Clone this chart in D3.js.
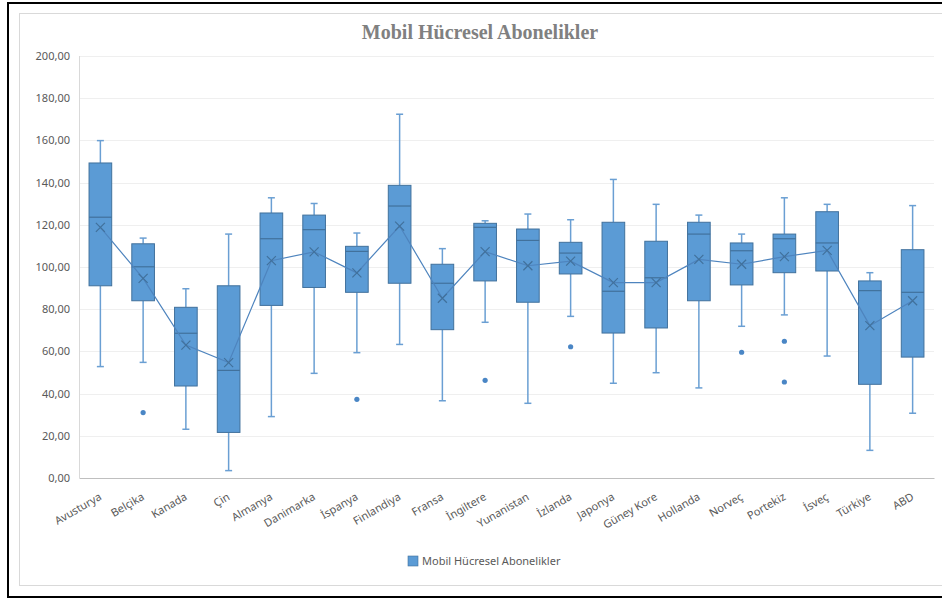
<!DOCTYPE html>
<html>
<head>
<meta charset="utf-8">
<script src="https://cdn.jsdelivr.net/npm/d3@7"></script>
<style>
  html, body { margin: 0; padding: 0; background: #fff; }
  svg { display: block; }
</style>
</head>
<body>
<svg id="chart" width="942" height="599"></svg>
<script>
// Mobile cellular subscriptions (per 100 people) by country: box-and-whisker summary
const categories = ["Avusturya","Belçika","Kanada","Çin","Almanya","Danimarka","İspanya","Finlandiya","Fransa","İngiltere",
                    "Yunanistan","İzlanda","Japonya","Güney Kore","Hollanda","Norveç","Portekiz","İsveç","Türkiye","ABD"];
const whiskerLow  = [52.8, 54.8, 23.1,  3.5, 29.1, 49.6, 59.4, 63.3, 36.6, 73.8, 35.4, 76.6, 44.9, 49.9, 42.7, 71.9, 77.3, 57.8, 13.1, 30.7];
const q1          = [91.1, 84.0, 43.6, 21.6, 81.8, 90.3, 88.0, 92.3, 70.3, 93.4, 83.3, 96.7, 68.7, 71.1, 84.0, 91.5, 97.3, 98.1, 44.4, 57.3];
const median      = [123.6,100.1,68.6, 51.0,113.4,117.7,107.4,128.9, 92.3,118.8,112.6,106.6, 88.5, 94.9,115.6,107.7,113.4,111.4, 88.8, 88.0];
const q3          = [149.3,111.0,80.9, 91.1,125.6,124.6,109.8,138.7,101.3,120.7,118.0,111.7,121.2,112.2,121.2,111.4,115.6,126.2, 93.4,108.2];
const whiskerHigh = [159.9,113.7,89.7,115.6,132.8,130.1,116.1,172.4,108.7,121.9,125.1,122.4,141.5,129.7,124.6,115.6,132.8,129.7, 97.3,129.1];
const means       = [118.8, 94.6,63.0, 54.7,103.0,107.2, 97.2,119.4, 85.2,107.3,100.6,102.8, 92.6, 92.6,103.6,101.3,104.9,107.9, 72.2, 84.0];
const outliers    = [[],[31.0],[],[],[],[],[37.3],[],[],[46.3],[],[62.2],[],[],[],[59.6],[64.8,45.5],[],[],[]];
const yTicks      = [0, 20, 40, 60, 80, 100, 120, 140, 160, 180, 200];

const title = "Mobil Hücresel Abonelikler";
const seriesName = "Mobil Hücresel Abonelikler";

const rows = categories.map((c, i) => ({
  name: c, lo: whiskerLow[i], q1: q1[i], med: median[i], q3: q3[i], hi: whiskerHigh[i],
  mean: means[i], out: outliers[i]
}));

const W = 942, H = 599;
const plot = { left: 79, right: 934, top: 56, bottom: 478 };

const fill = "#5B9BD5", edge = "#41719C", whiskerCol = "#6A9FD3";
const tickFont = "'Noto Sans', 'Open Sans', sans-serif";

const svg = d3.select("#chart");

// outer frame and chart-area frame
svg.append("rect").attr("x", 8).attr("y", 3).attr("width", W + 20).attr("height", 594)
  .attr("fill", "none").attr("stroke", "#000").attr("stroke-width", 2);
svg.append("rect").attr("x", 19.5).attr("y", 13.5).attr("width", W + 20).attr("height", 572)
  .attr("fill", "#fff").attr("stroke", "#D9D9D9").attr("stroke-width", 1);

const x = d3.scaleBand().domain(categories).range([plot.left, plot.right]).paddingInner(0).paddingOuter(0);
const y = d3.scaleLinear().domain([0, 200]).range([plot.bottom, plot.top]);

// horizontal gridlines
svg.append("g")
  .selectAll("line").data(yTicks.filter(t => t > 0)).join("line")
  .attr("x1", plot.left).attr("x2", plot.right)
  .attr("y1", d => Math.round(y(d)) + 0.5).attr("y2", d => Math.round(y(d)) + 0.5)
  .attr("stroke", "#EFEFEF").attr("stroke-width", 1.2);

// vertical value axis line
svg.append("line").attr("x1", plot.left + 0.5).attr("x2", plot.left + 0.5)
  .attr("y1", plot.top).attr("y2", plot.bottom).attr("stroke", "#D9D9D9");

// y axis labels
const fmt = v => d3.format(".2f")(v).replace(".", ",");
const yAxis = d3.axisLeft(y).tickValues(yTicks).tickFormat(fmt).tickSize(0).tickPadding(9);
const yG = svg.append("g").attr("transform", `translate(${plot.left},0)`).call(yAxis);
yG.select(".domain").remove();
yG.selectAll("text").attr("fill", "#595959").attr("font-family", tickFont).attr("font-size", 11);

// x axis line + rotated category labels
const xAxis = d3.axisBottom(x).tickSize(0).tickPadding(0);
const xG = svg.append("g").attr("transform", `translate(0,${plot.bottom})`).call(xAxis);
xG.select(".domain").attr("stroke", "#BFBFBF").attr("stroke-width", 1.2);
xG.selectAll("text")
  .attr("fill", "#595959").attr("font-family", tickFont).attr("font-size", 11)
  .attr("text-anchor", "end").attr("dy", 0).attr("y", 0)
  .attr("transform", "translate(2,21) rotate(-30)");

const bw = x.bandwidth() * 0.53;
const cx = d => x(d.name) + x.bandwidth() / 2;

const boxes = svg.append("g").selectAll("g").data(rows).join("g");

// whiskers
boxes.append("line").attr("x1", cx).attr("x2", cx).attr("y1", d => y(d.hi)).attr("y2", d => y(d.q3))
  .attr("stroke", whiskerCol).attr("stroke-width", 1.5);
boxes.append("line").attr("x1", cx).attr("x2", cx).attr("y1", d => y(d.q1)).attr("y2", d => y(d.lo))
  .attr("stroke", whiskerCol).attr("stroke-width", 1.5);
// caps
boxes.append("line").attr("x1", d => cx(d) - 3.5).attr("x2", d => cx(d) + 3.5)
  .attr("y1", d => y(d.hi)).attr("y2", d => y(d.hi)).attr("stroke", whiskerCol).attr("stroke-width", 1.5);
boxes.append("line").attr("x1", d => cx(d) - 3.5).attr("x2", d => cx(d) + 3.5)
  .attr("y1", d => y(d.lo)).attr("y2", d => y(d.lo)).attr("stroke", whiskerCol).attr("stroke-width", 1.5);

// boxes
boxes.append("rect")
  .attr("x", d => cx(d) - bw / 2).attr("width", bw)
  .attr("y", d => y(d.q3)).attr("height", d => y(d.q1) - y(d.q3))
  .attr("fill", fill).attr("stroke", edge).attr("stroke-width", 1);
// median
boxes.append("line").attr("x1", d => cx(d) - bw / 2).attr("x2", d => cx(d) + bw / 2)
  .attr("y1", d => y(d.med)).attr("y2", d => y(d.med)).attr("stroke", edge).attr("stroke-width", 1.2);

// outliers
boxes.selectAll("circle").data(d => d.out.map(v => ({ c: cx(d), v }))).join("circle")
  .attr("cx", d => d.c).attr("cy", d => y(d.v)).attr("r", 2.6).attr("fill", "#4A86C5");

// mean line
const line = d3.line().x(d => cx(d)).y(d => y(d.mean));
svg.append("path").datum(rows).attr("d", line).attr("fill", "none")
  .attr("stroke", "#4E84BE").attr("stroke-width", 1.2);

// mean markers (x)
const m = 4.5;
svg.append("g").selectAll("path").data(rows).join("path")
  .attr("d", d => {
    const px = cx(d), py = y(d.mean);
    return `M${px - m},${py - m}L${px + m},${py + m}M${px - m},${py + m}L${px + m},${py - m}`;
  })
  .attr("stroke", "#41719C").attr("stroke-width", 1.2).attr("fill", "none");

// title
svg.append("text").attr("x", 480).attr("y", 39).attr("text-anchor", "middle")
  .attr("font-family", "'Liberation Serif', 'Times New Roman', serif").attr("font-weight", "bold")
  .attr("font-size", 20).attr("fill", "#808080").text(title);

// legend
const lg = svg.append("g").attr("transform", "translate(408,556)");
lg.append("rect").attr("x", 0).attr("y", 0).attr("width", 10).attr("height", 10)
  .attr("fill", fill).attr("stroke", edge).attr("stroke-width", 0.6);
lg.append("text").attr("x", 14).attr("y", 9).attr("font-family", tickFont).attr("font-size", 11)
  .attr("fill", "#595959").text(seriesName);
</script>
</body>
</html>
